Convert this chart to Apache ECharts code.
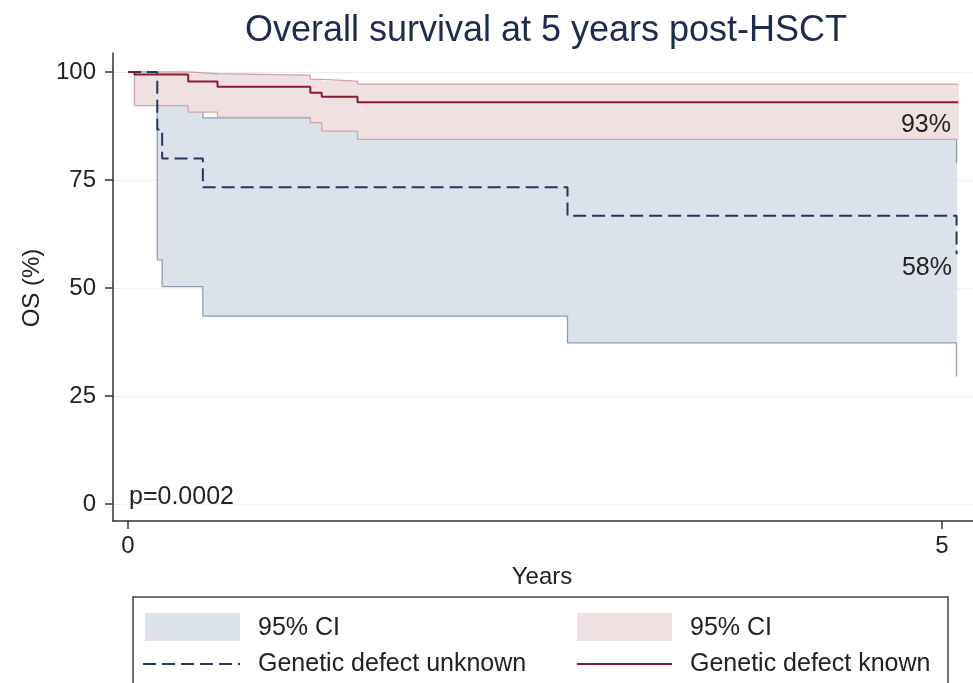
<!DOCTYPE html>
<html><head><meta charset="utf-8">
<script src="https://cdn.jsdelivr.net/npm/echarts@6/dist/echarts.min.js"></script>
<style>html,body{margin:0;padding:0;background:#fff}#c{width:973px;height:683px}</style>
</head><body><div id="c"></div>
<script>
// ---- data ----
const xTicks = [0, 5];
const yTicks = [0, 25, 50, 75, 100];
const timesUnknown = [0, 0.18, 0.21, 0.46, 2.70, 5.09];
const osUnknown    = [100, 86.7, 80.0, 73.3, 66.7, 57.8];
const upperUnknown = [100, 96.5, 93.1, 89.4, 84.6, 79.0];
const lowerUnknown = [100, 56.5, 50.3, 43.5, 37.3, 29.5];
const timesKnown = [0, 0.04, 0.37, 0.55, 1.12, 1.19, 1.41, 5.10];
const osKnown    = [100, 99.4, 97.8, 96.6, 95.2, 94.3, 93.0, 93.0];
const upperKnown = [100, 100, 99.6, 99.3, 98.3, 97.9, 97.2, 97.2];
const lowerKnown = [100, 92.2, 90.7, 89.5, 88.3, 86.3, 84.4, 84.4];
const legendLabels = ['95% CI', '95% CI', 'Genetic defect unknown', 'Genetic defect known'];
const endLabels = ['93%', '58%'];
const pText = 'p=0.0002';
const titleText = 'Overall survival at 5 years post-HSCT';
const xName = 'Years';
const yName = 'OS (%)';

// ---- styles ----
const FONT = 'Liberation Sans, Arial, sans-serif';
const C = {
  blueFill: '#dce2ea', blueEdge: '#8e9db1', blueLine: '#1f3a5c',
  pinkFill: '#efe0e2', pinkEdge: '#d4a4ab', redLine: '#8b1a2c',
  grid: '#e9eef1', axis: '#333', text: '#222', title: '#1e2b4f'
};
const zip = (xs, ys) => xs.map((x, i) => [x, ys[i]]);
// step segments [tStart, tEnd, low, high] for the CI band fill
const segs = (ts, lo, hi) => ts.slice(0, -1).map((t, i) => [t, ts[i + 1], lo[i], hi[i]]);

const chart = echarts.init(document.getElementById('c'), null, {renderer: 'canvas'});
const base = {type: 'line', step: 'end', symbol: 'none', silent: true, animation: false};
const band = (data, fill, z) => ({
  type: 'custom', silent: true, animation: false, z: z, data: data,
  renderItem: function (params, api) {
    const p1 = api.coord([api.value(0), api.value(3)]);
    const p2 = api.coord([api.value(1), api.value(2)]);
    return {type: 'rect', shape: {x: p1[0], y: p1[1], width: p2[0] - p1[0] + 0.6, height: p2[1] - p1[1]},
      style: {fill: fill}};
  }
});

chart.setOption({
  animation: false,
  backgroundColor: '#fff',
  grid: {left: 113, right: 0, top: 53, bottom: 162, containLabel: false},
  xAxis: {
    type: 'value', min: -0.092, max: 5.191,
    axisLine: {show: true, onZero: false, lineStyle: {color: C.axis, width: 1.5}},
    axisTick: {show: true, length: 8, customValues: xTicks, lineStyle: {color: C.axis, width: 1.5}},
    axisLabel: {customValues: xTicks, fontSize: 24, fontFamily: FONT, color: C.text, margin: 13},
    splitLine: {show: false}
  },
  yAxis: {
    type: 'value', min: -3.94, max: 104.4,
    axisLine: {show: true, onZero: false, lineStyle: {color: C.axis, width: 1.5}},
    axisTick: {show: true, length: 8, customValues: yTicks, lineStyle: {color: C.axis, width: 1.5}},
    axisLabel: {customValues: yTicks, fontSize: 24, fontFamily: FONT, color: C.text, margin: 17},
    splitLine: {show: true, lineStyle: {color: C.grid, width: 1}}
  },
  series: [
    band(segs(timesUnknown, lowerUnknown, upperUnknown), C.blueFill, 1),
    Object.assign({}, base, {name: 'uLow', data: zip(timesUnknown, lowerUnknown),
      lineStyle: {color: C.blueEdge, width: 1.3}, z: 1}),
    Object.assign({}, base, {name: 'uHigh', data: zip(timesUnknown, upperUnknown),
      lineStyle: {color: C.blueEdge, width: 1.3}, z: 1}),
    band(segs(timesKnown, lowerKnown, upperKnown), C.pinkFill, 2),
    Object.assign({}, base, {name: 'kLow', data: zip(timesKnown, lowerKnown),
      lineStyle: {color: C.pinkEdge, width: 1.3}, z: 2}),
    Object.assign({}, base, {name: 'kHigh', data: zip(timesKnown, upperKnown),
      lineStyle: {color: C.pinkEdge, width: 1.3}, z: 2}),
    Object.assign({}, base, {name: 'Genetic defect unknown', data: zip(timesUnknown, osUnknown),
      lineStyle: {color: C.blueLine, width: 2, type: [13, 6]}, z: 3}),
    Object.assign({}, base, {name: 'Genetic defect known', data: zip(timesKnown, osKnown),
      lineStyle: {color: C.redLine, width: 2}, z: 4})
  ],
  graphic: [
    {type: 'text', x: 546, y: 31, style: {text: titleText, font: '36px ' + FONT, fill: C.title, textAlign: 'center', textVerticalAlign: 'middle'}},
    {type: 'text', x: 32, y: 288, rotation: Math.PI / 2, style: {text: yName, font: '24px ' + FONT, fill: C.text, textAlign: 'center', textVerticalAlign: 'middle'}},
    {type: 'text', x: 542, y: 577, style: {text: xName, font: '24px ' + FONT, fill: C.text, textAlign: 'center', textVerticalAlign: 'middle'}},
    {type: 'text', x: 951, y: 125, style: {text: endLabels[0], font: '25px ' + FONT, fill: C.text, textAlign: 'right', textVerticalAlign: 'middle'}, z: 10},
    {type: 'text', x: 952, y: 268, style: {text: endLabels[1], font: '25px ' + FONT, fill: C.text, textAlign: 'right', textVerticalAlign: 'middle'}, z: 10},
    {type: 'text', x: 129, y: 497, style: {text: pText, font: '25px ' + FONT, fill: C.text, textAlign: 'left', textVerticalAlign: 'middle'}, z: 10},
    // legend
    {type: 'rect', shape: {x: 133, y: 597, width: 815, height: 100}, style: {fill: '#fff', stroke: '#444', lineWidth: 1.5}},
    {type: 'rect', shape: {x: 145, y: 613, width: 95, height: 28}, style: {fill: C.blueFill}},
    {type: 'text', x: 258, y: 628, style: {text: legendLabels[0], font: '25px ' + FONT, fill: C.text, textVerticalAlign: 'middle'}},
    {type: 'rect', shape: {x: 577, y: 613, width: 95, height: 28}, style: {fill: C.pinkFill}},
    {type: 'text', x: 690, y: 628, style: {text: legendLabels[1], font: '25px ' + FONT, fill: C.text, textVerticalAlign: 'middle'}},
    {type: 'line', shape: {x1: 143, y1: 664, x2: 240, y2: 664}, style: {stroke: C.blueLine, lineWidth: 2, lineDash: [13, 6]}},
    {type: 'text', x: 258, y: 664, style: {text: legendLabels[2], font: '25px ' + FONT, fill: C.text, textVerticalAlign: 'middle'}},
    {type: 'line', shape: {x1: 577, y1: 664, x2: 672, y2: 664}, style: {stroke: C.redLine, lineWidth: 2}},
    {type: 'text', x: 690, y: 664, style: {text: legendLabels[3], font: '25px ' + FONT, fill: C.text, textVerticalAlign: 'middle'}}
  ]
});
</script></body></html>
